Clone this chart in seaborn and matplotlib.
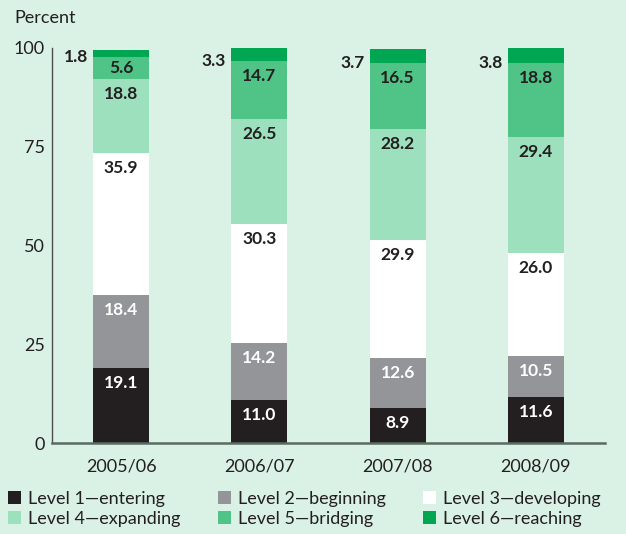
import matplotlib
matplotlib.use("Agg")
import matplotlib.pyplot as plt
from matplotlib.patches import Patch
import seaborn as sns
import numpy as np
import pandas as pd

years = ["2005/06", "2006/07", "2007/08", "2008/09"]
levels = ["Level 1\u2014entering", "Level 2\u2014beginning", "Level 3\u2014developing",
          "Level 4\u2014expanding", "Level 5\u2014bridging", "Level 6\u2014reaching"]
level1 = [19.1, 11.0, 8.9, 11.6]
level2 = [18.4, 14.2, 12.6, 10.5]
level3 = [35.9, 30.3, 29.9, 26.0]
level4 = [18.8, 26.5, 28.2, 29.4]
level5 = [5.6, 14.7, 16.5, 18.8]
level6 = [1.8, 3.3, 3.7, 3.8]
yticks = [0, 25, 50, 75, 100]

colors = ["#231f20", "#939598", "#ffffff", "#9de0bd", "#4fc486", "#00a651"]
text_colors = ["white", "white", "#231f20", "#231f20", "#231f20", "#231f20"]
bg = "#daf1e5"
FONT = "Lato"
FS = 13
VFS = 12.5

sns.set_theme(style="white")
plt.rcParams["font.family"] = [FONT, "DejaVu Sans"]

fig = plt.figure(figsize=(6.26, 5.34), dpi=100, facecolor=bg)
ax = fig.add_axes([52/626, 1-443/534, (605-52)/626, (443-48)/534])
ax.set_facecolor(bg)

series = [level1, level2, level3, level4, level5, level6]
bottom = np.zeros(len(years))
px = 72/100  # points per pixel
for i, vals in enumerate(series):
    df = pd.DataFrame({"year": years, "value": vals})
    sns.barplot(data=df, x="year", y="value", order=years, color=colors[i],
                bottom=bottom.copy(), width=0.406, errorbar=None, ax=ax,
                linewidth=0, saturation=1)
    for j, v in enumerate(vals):
        top = bottom[j] + v
        if i < 5:
            seg_px = v * 395 / 100
            off = min(15, seg_px / 2)
            ax.annotate(f"{v:.1f}", (j, top), xytext=(0, -off*px), textcoords="offset points",
                        ha="center", va="center", fontsize=VFS, fontweight="bold",
                        color=text_colors[i])
        else:
            ax.annotate(f"{v:.1f}", (j - 0.203, bottom[j]), xytext=(-5*px, 0),
                        textcoords="offset points", ha="right", va="center",
                        fontsize=VFS, fontweight="bold", color="#231f20")
    bottom = bottom + np.array(vals)

ax.set_xlim(-0.5, 3.5)
ax.set_ylim(0, 100)
ax.set_yticks(yticks)
ax.set_yticklabels([str(t) for t in yticks])
ax.set_xlabel("")
ax.set_ylabel("")
ax.tick_params(axis="y", length=0, pad=5, labelsize=FS, labelcolor="#231f20")
ax.tick_params(axis="x", length=0, pad=11, labelsize=FS, labelcolor="#231f20")
for s in ["top", "right"]:
    ax.spines[s].set_visible(False)
ax.spines["left"].set_color("#4d4d4d")
ax.spines["left"].set_linewidth(1.0)
ax.spines["bottom"].set_color("#5a6b60")
ax.spines["bottom"].set_linewidth(1.8)

fig.text(14/626, 1-18/534, "Percent", ha="left", va="center", fontsize=FS, color="#231f20")

order = [0, 3, 1, 4, 2, 5]
handles = [Patch(facecolor=colors[k], edgecolor="none") for k in order]
labels = [levels[k] for k in order]
fig.legend(handles, labels, ncol=3, loc="upper left", bbox_to_anchor=(8/626, 1-491/534),
           frameon=False, fontsize=FS, handlelength=0.72, handleheight=0.72,
           handletextpad=0.4, columnspacing=2.05, labelspacing=0.2, borderpad=0,
           borderaxespad=0, labelcolor="#231f20")

fig.savefig("out.png", dpi=100, facecolor=bg)
